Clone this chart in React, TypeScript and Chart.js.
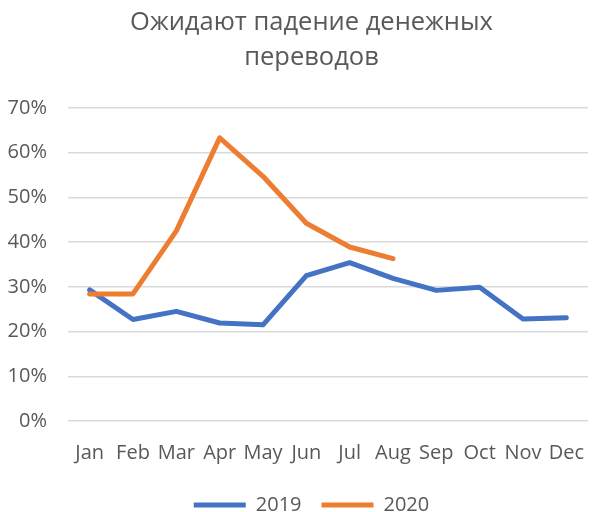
import React, { useEffect, useRef } from "react";
import { Chart, registerables } from "chart.js";

Chart.register(...registerables);

const titleLines = ["Ожидают падение денежных", "переводов"];
const months = ["Jan", "Feb", "Mar", "Apr", "May", "Jun", "Jul", "Aug", "Sep", "Oct", "Nov", "Dec"];
const series2019 = [29.3, 22.7, 24.5, 21.9, 21.5, 32.5, 35.4, 31.9, 29.2, 29.9, 22.8, 23.1];
const series2020 = [28.4, 28.4, 42.5, 63.3, 54.7, 44.2, 38.9, 36.3, null, null, null, null];
const yTicks = [0, 10, 20, 30, 40, 50, 60, 70];

const FONT = "'Open Sans', 'Noto Sans', sans-serif";
const TEXT = "#595959";
const TICK_SIZE = 20;

export default function App() {
  const ref = useRef<HTMLCanvasElement | null>(null);

  useEffect(() => {
    if (!ref.current) return;
    const mctx = document.createElement("canvas").getContext("2d")!;
    mctx.font = `normal ${TICK_SIZE}px ${FONT}`;
    const widest = Math.max(...yTicks.map((v) => mctx.measureText(v + "%").width));

    const chart = new Chart(ref.current, {
      type: "line",
      data: {
        labels: months,
        datasets: [
          {
            label: "2019",
            data: series2019,
            borderColor: "#4472C4",
            backgroundColor: "#4472C4",
            borderWidth: 5,
            borderCapStyle: "round",
            borderJoinStyle: "round",
            pointRadius: 0,
            pointStyle: "line",
            tension: 0,
            order: 1,
          },
          {
            label: "2020",
            data: series2020,
            borderColor: "#ED7D31",
            backgroundColor: "#ED7D31",
            borderWidth: 5,
            borderCapStyle: "round",
            borderJoinStyle: "round",
            pointRadius: 0,
            pointStyle: "line",
            tension: 0,
            spanGaps: false,
            order: 0,
          },
        ],
      },
      options: {
        responsive: false,
        animation: false,
        devicePixelRatio: 1,
        layout: { padding: { left: 19, right: 0, top: 0, bottom: 0 } },
        plugins: {
          tooltip: { enabled: false },
          title: {
            display: true,
            text: titleLines,
            color: TEXT,
            font: { family: FONT, size: 25.5, weight: "normal", lineHeight: 1.37 },
            padding: { top: 5, bottom: 33 },
          },
          legend: {
            display: true,
            position: "bottom",
            labels: {
              usePointStyle: true,
              pointStyle: "line",
              pointStyleWidth: 52,
              boxHeight: 5,
              padding: 20,
              color: TEXT,
              font: { family: FONT, size: 20 },
              sort: (a: any, b: any) => a.datasetIndex - b.datasetIndex,
            },
          },
        },
        scales: {
          x: {
            offset: true,
            afterFit: (axis: any) => {
              axis.height = 54;
            },
            grid: { display: false, drawTicks: false },
            border: { display: false },
            ticks: {
              color: TEXT,
              font: { family: FONT, size: TICK_SIZE },
              padding: 20,
              maxRotation: 0,
              autoSkip: false,
            },
          },
          y: {
            min: 0,
            max: 70,
            afterBuildTicks: (axis: any) => {
              axis.ticks = yTicks.map((v) => ({ value: v }));
            },
            afterFit: (axis: any) => {
              axis.width = 49;
            },
            grid: { color: "#D9D9D9", lineWidth: 1.5, drawTicks: false },
            border: { display: false },
            ticks: {
              color: TEXT,
              font: { family: FONT, size: TICK_SIZE },
              mirror: true,
              crossAlign: "far",
              padding: -(21 + widest),
              callback: (v: any) => v + "%",
            },
          },
        },
      },
    });
    return () => chart.destroy();
  }, []);

  return (
    <div
      style={{
        position: "fixed",
        left: 0,
        top: 0,
        width: 600,
        height: 512,
        overflow: "hidden",
        background: "#ffffff",
      }}
    >
      <canvas
        ref={ref}
        width={604}
        height={525}
        style={{ position: "absolute", left: 0, top: 0, width: 604, height: 525 }}
      />
    </div>
  );
}
